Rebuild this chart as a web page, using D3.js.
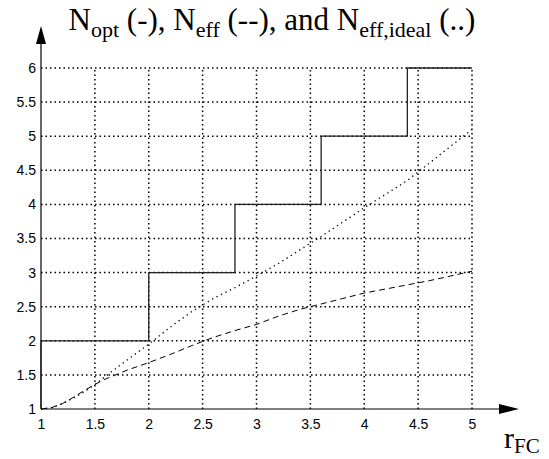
<html>

<head>
    <meta charset="utf-8">
    <style>
        body {
            margin: 0;
            background: #fff;
        }

        .grid line {
            stroke: #000;
            stroke-width: 1.5;
            stroke-dasharray: 1.5, 3;
        }

        .tick text {
            font-family: "Liberation Sans", Arial, sans-serif;
            font-size: 14px;
            fill: #000;
        }

        .serif {
            font-family: "Liberation Serif", "Times New Roman", serif;
            fill: #000;
        }
    </style>
</head>

<body>
    <script src="https://cdn.jsdelivr.net/npm/d3@7"></script>
    <script>
        var width = 549,
            height = 459;

        // x positions and the three curves
        var xTicks = [1, 1.5, 2, 2.5, 3, 3.5, 4, 4.5, 5],
            yTicks = [1, 1.5, 2, 2.5, 3, 3.5, 4, 4.5, 5, 5.5, 6];

        var optX = [1, 1, 2, 2, 2.8, 2.8, 3.6, 3.6, 4.4, 4.4, 5],
            optY = [1, 2, 2, 3, 3, 4, 4, 5, 5, 6, 6];

        var effX = [1, 1.1, 1.2, 1.3, 1.4, 1.5, 1.6, 1.8, 2, 2.2, 2.4, 2.6, 2.8, 3, 3.2, 3.4, 3.6, 3.8, 4, 4.2, 4.4, 4.6, 4.8, 5],
            effY = [1, 1.02, 1.08, 1.17, 1.27, 1.36, 1.44, 1.57, 1.68, 1.8, 1.93, 2.05, 2.15, 2.24, 2.36, 2.46, 2.54, 2.62, 2.7, 2.76, 2.82, 2.88, 2.95, 3.02];

        var idealX = [1, 1.1, 1.2, 1.3, 1.4, 1.5, 1.6, 1.8, 2, 2.2, 2.4, 2.6, 2.8, 3, 3.2, 3.4, 3.6, 3.8, 4, 4.2, 4.4, 4.6, 4.8, 5],
            idealY = [1, 1.02, 1.08, 1.16, 1.25, 1.36, 1.48, 1.72, 1.95, 2.2, 2.43, 2.62, 2.78, 2.95, 3.13, 3.33, 3.53, 3.74, 3.95, 4.15, 4.35, 4.6, 4.85, 5.1];

        var x = d3.scaleLinear().domain([1, 5]).range([41, 472]),
            y = d3.scaleLinear().domain([1, 6]).range([409, 68]);

        var svg = d3.select("body").append("svg")
            .attr("width", width)
            .attr("height", height);

        // dotted grid
        var grid = svg.append("g").attr("class", "grid");
        grid.selectAll(".h")
            .data(yTicks.slice(1))
            .enter().append("line")
            .attr("x1", x(1)).attr("x2", x(5))
            .attr("y1", function(d) { return y(d); })
            .attr("y2", function(d) { return y(d); });
        grid.selectAll(".v")
            .data(xTicks.slice(1))
            .enter().append("line")
            .attr("y1", y(1)).attr("y2", y(6))
            .attr("x1", function(d) { return x(d); })
            .attr("x2", function(d) { return x(d); });

        // tick labels
        svg.append("g")
            .attr("transform", "translate(0," + y(1) + ")")
            .call(d3.axisBottom(x).tickValues(xTicks).tickSize(0).tickPadding(10).tickFormat(d3.format("")));
        svg.append("g")
            .attr("transform", "translate(" + x(1) + ",0)")
            .call(d3.axisLeft(y).tickValues(yTicks).tickSize(0).tickPadding(5).tickFormat(d3.format("")));
        svg.selectAll(".domain").remove();
        svg.selectAll(".tick text").attr("font-family", null).attr("font-size", null);

        // axis lines with arrowheads
        var x0 = x(1), y0 = y(1);
        svg.append("line")
            .attr("x1", x0).attr("y1", y0).attr("x2", x0).attr("y2", 34)
            .attr("stroke", "#000").attr("stroke-width", 1.2);
        svg.append("path")
            .attr("d", "M" + x0 + ",26L" + (x0 - 5) + ",44L" + (x0 + 5) + ",44Z")
            .attr("fill", "#000");
        svg.append("line")
            .attr("x1", x0).attr("y1", y0).attr("x2", 505).attr("y2", y0)
            .attr("stroke", "#000").attr("stroke-width", 1.2);
        svg.append("path")
            .attr("d", "M519," + y0 + "L499," + (y0 - 5) + "L499," + (y0 + 5) + "Z")
            .attr("fill", "#000");

        var line = d3.line()
            .x(function(d) { return x(d[0]); })
            .y(function(d) { return y(d[1]); });

        function pairs(xs, ys) {
            return xs.map(function(v, i) { return [v, ys[i]]; });
        }

        svg.append("path")
            .datum(pairs(idealX, idealY))
            .attr("d", line)
            .attr("fill", "none")
            .attr("stroke", "#000")
            .attr("stroke-width", 1.3)
            .attr("stroke-dasharray", "1.3,3.7");

        svg.append("path")
            .datum(pairs(effX, effY))
            .attr("d", line)
            .attr("fill", "none")
            .attr("stroke", "#000")
            .attr("stroke-width", 1)
            .attr("stroke-dasharray", "6,4");

        svg.append("path")
            .datum(pairs(optX, optY))
            .attr("d", line)
            .attr("fill", "none")
            .attr("stroke", "#222")
            .attr("stroke-width", 1.3);

        // title with subscripts
        var title = svg.append("text")
            .attr("class", "serif")
            .attr("x", 272)
            .attr("y", 30)
            .attr("text-anchor", "middle")
            .style("font-size", "31px");
        var parts = [["N", ""], ["opt", "sub"], [" (-), N", ""], ["eff", "sub"], [" (--), and N", ""], ["eff,ideal", "sub"], [" (..)", ""]];
        parts.forEach(function(p, i) {
            var prev = i > 0 ? parts[i - 1][1] : "";
            var t = title.append("tspan").text(p[0]);
            if (p[1] === "sub") t.attr("dy", 7).style("font-size", "22px");
            else if (prev === "sub") t.attr("dy", -7);
        });

        // x label
        var xl = svg.append("text")
            .attr("class", "serif")
            .attr("x", 504)
            .attr("y", 448)
            .style("font-size", "30px");
        xl.append("tspan").text("r");
        xl.append("tspan").attr("dy", 5).style("font-size", "21px").text("FC");
    </script>
</body>

</html>
